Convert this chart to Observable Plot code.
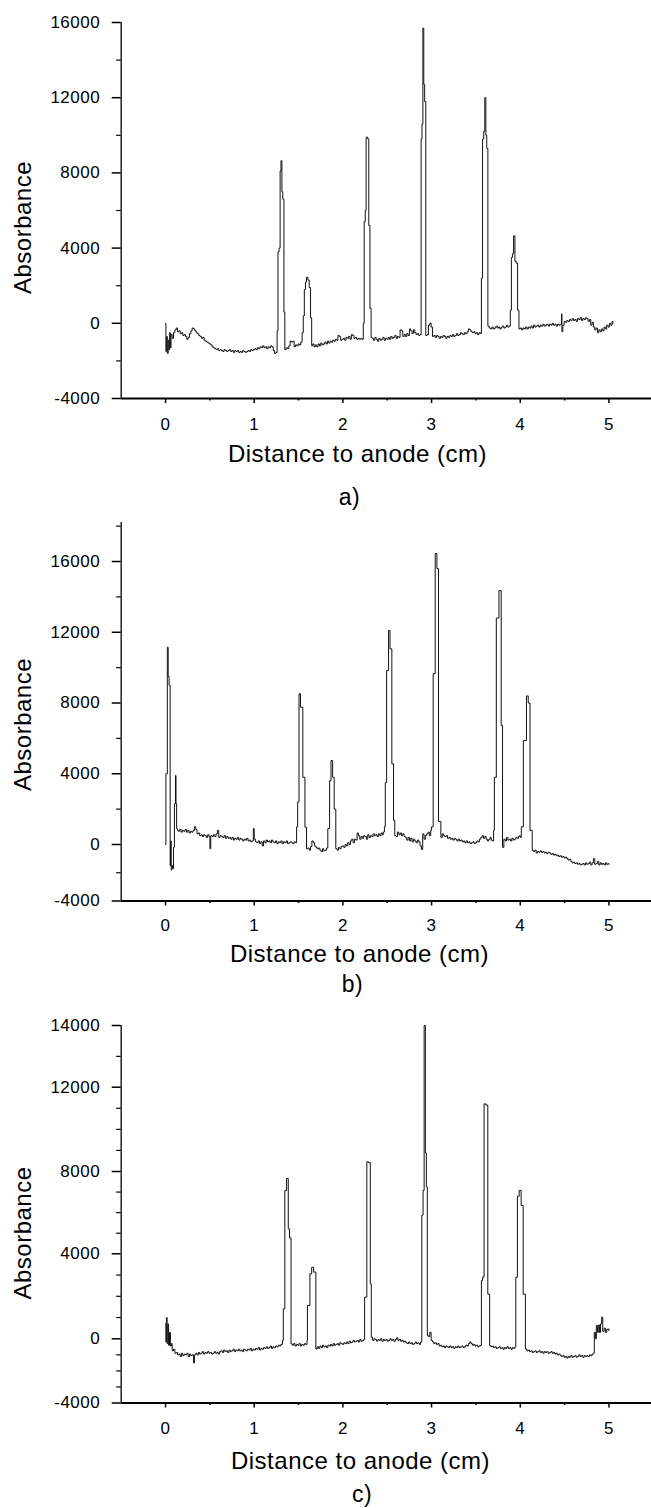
<!DOCTYPE html>
<html>
<head>
<meta charset="utf-8">
<script src="https://cdn.jsdelivr.net/npm/d3@7"></script>
<script src="https://cdn.jsdelivr.net/npm/@observablehq/plot@0.6"></script>
<style>
html, body { margin: 0; padding: 0; background: #fff; overflow: hidden; }
svg { display: block; }
</style>
</head>
<body>
<div id="root"></div>
<script>
// ---- text ----
const xLabel = "Distance to anode (cm)";
const yLabel = "Absorbance";
const captions = ["a)", "b)", "c)"];

// ---- ticks ----
const xMajor = [0, 1, 2, 3, 4, 5];
const xMinor = [0.5, 1.5, 2.5, 3.5, 4.5];
const aYMajor = [-4000, 0, 4000, 8000, 12000, 16000];
const aYMinor = [-2000, 2000, 6000, 10000, 14000];
const bYMajor = [-4000, 0, 4000, 8000, 12000, 16000];
const bYMinor = [-2000, 2000, 6000, 10000, 14000, 18000];
const cYMajor = [-4000, 0, 4000, 8000, 12000, 14000];
const cYMinor = [-3000, -2000, -1000, 1000, 2000, 3000, 5000, 6000, 7000, 9000, 10000, 11000, 13000];

// ---- traces: [distance (cm), absorbance] ----
const traceA = [[0,0],[0.004,-1500],[0.012,-700],[0.02,-1600],[0.03,-900],[0.038,-1400],[0.046,-500],[0.054,-1300],[0.062,-600],[0.075,-800],[0.09,-500],[0.105,-350],[0.12,-250],[0.135,-450],[0.15,-400],[0.165,-550],[0.18,-500],[0.195,-650],[0.21,-600],[0.225,-700],[0.24,-850],[0.255,-750],[0.27,-550],[0.285,-400],[0.3,-250],[0.315,-300],[0.33,-400],[0.345,-500],[0.36,-550],[0.375,-650],[0.39,-700],[0.405,-800],[0.42,-750],[0.435,-900],[0.45,-950],[0.465,-1000],[0.48,-1050],[0.495,-1100],[0.51,-1150],[0.525,-1250],[0.54,-1300],[0.555,-1350],[0.57,-1400],[0.585,-1350],[0.6,-1450],[0.615,-1400],[0.63,-1450],[0.645,-1500],[0.66,-1400],[0.675,-1450],[0.69,-1500],[0.705,-1450],[0.72,-1400],[0.735,-1500],[0.75,-1450],[0.765,-1550],[0.78,-1450],[0.795,-1500],[0.81,-1450],[0.825,-1550],[0.84,-1500],[0.855,-1550],[0.87,-1450],[0.885,-1500],[0.9,-1550],[0.915,-1500],[0.93,-1450],[0.945,-1500],[0.96,-1400],[0.975,-1450],[0.99,-1400],[1.005,-1350],[1.02,-1400],[1.035,-1300],[1.05,-1350],[1.065,-1250],[1.08,-1300],[1.095,-1200],[1.11,-1300],[1.125,-1250],[1.14,-1350],[1.155,-1250],[1.17,-1300],[1.185,-1200],[1.2,-1250],[1.215,-1450],[1.23,-1600],[1.245,-1550],[1.258,-400],[1.268,3800],[1.28,4000],[1.292,8100],[1.302,8650],[1.312,7000],[1.322,6600],[1.335,600],[1.345,-1400],[1.36,-1300],[1.375,-1350],[1.39,-1200],[1.405,-950],[1.42,-1000],[1.435,-950],[1.45,-1250],[1.465,-1150],[1.48,-1200],[1.495,-1100],[1.51,-1150],[1.525,-1000],[1.54,-500],[1.553,400],[1.565,1800],[1.578,2200],[1.59,2450],[1.605,2300],[1.62,1900],[1.635,300],[1.648,-1200],[1.66,-1100],[1.675,-1250],[1.69,-1150],[1.705,-1250],[1.72,-1100],[1.735,-1200],[1.75,-1050],[1.765,-1150],[1.78,-1100],[1.795,-1000],[1.81,-1100],[1.825,-950],[1.84,-1050],[1.855,-950],[1.87,-1000],[1.885,-900],[1.9,-950],[1.915,-850],[1.93,-900],[1.945,-650],[1.96,-700],[1.975,-900],[1.99,-850],[2.005,-800],[2.02,-900],[2.035,-750],[2.05,-800],[2.065,-700],[2.08,-850],[2.095,-600],[2.11,-650],[2.125,-800],[2.14,-750],[2.155,-850],[2.17,-800],[2.185,-850],[2.2,-800],[2.215,-850],[2.23,0],[2.24,5400],[2.252,6000],[2.262,9900],[2.28,9800],[2.292,5200],[2.305,800],[2.318,-750],[2.33,-800],[2.345,-900],[2.36,-750],[2.375,-850],[2.39,-950],[2.405,-800],[2.42,-900],[2.435,-850],[2.45,-750],[2.465,-900],[2.48,-800],[2.495,-850],[2.51,-750],[2.525,-850],[2.54,-700],[2.555,-800],[2.57,-750],[2.585,-650],[2.6,-800],[2.615,-700],[2.63,-750],[2.645,-350],[2.66,-400],[2.675,-700],[2.69,-600],[2.705,-700],[2.72,-550],[2.735,-650],[2.75,-300],[2.765,-400],[2.78,-550],[2.795,-350],[2.81,-500],[2.825,-600],[2.84,-550],[2.855,-650],[2.87,-600],[2.882,9800],[2.892,10600],[2.902,15700],[2.912,12700],[2.922,11800],[2.935,-650],[2.95,-600],[2.965,-100],[2.98,0],[2.995,-200],[3.01,-700],[3.025,-650],[3.04,-750],[3.055,-650],[3.07,-700],[3.085,-800],[3.1,-700],[3.115,-750],[3.13,-650],[3.145,-700],[3.16,-800],[3.175,-700],[3.19,-750],[3.205,-650],[3.22,-700],[3.235,-600],[3.25,-700],[3.265,-650],[3.28,-550],[3.295,-650],[3.31,-600],[3.325,-500],[3.34,-550],[3.355,-600],[3.37,-500],[3.385,-550],[3.4,-450],[3.415,-300],[3.43,-350],[3.445,-450],[3.46,-500],[3.475,-450],[3.49,-550],[3.505,-500],[3.52,-600],[3.535,-500],[3.55,-550],[3.562,2400],[3.575,9800],[3.588,10200],[3.6,12000],[3.612,10000],[3.622,9300],[3.635,-150],[3.65,-250],[3.665,-300],[3.68,-200],[3.695,-300],[3.71,-250],[3.725,-150],[3.74,-250],[3.755,-200],[3.77,-300],[3.785,-200],[3.8,-150],[3.815,-250],[3.83,-200],[3.845,-100],[3.86,-200],[3.875,-150],[3.888,700],[3.9,3500],[3.912,3700],[3.925,4650],[3.94,3300],[3.955,3200],[3.97,700],[3.985,-300],[4.0,-250],[4.015,-350],[4.03,-250],[4.045,-300],[4.06,-200],[4.075,-300],[4.09,-200],[4.105,-250],[4.12,-150],[4.135,-250],[4.15,-100],[4.165,-200],[4.18,-150],[4.195,-100],[4.21,-200],[4.225,-100],[4.24,-150],[4.255,-50],[4.27,-150],[4.285,-100],[4.3,-50],[4.315,-150],[4.33,-50],[4.345,-100],[4.36,0],[4.375,-100],[4.39,-50],[4.405,-150],[4.42,-50],[4.435,-100],[4.45,-50],[4.465,500],[4.47,-450],[4.48,-100],[4.495,100],[4.51,50],[4.525,150],[4.54,100],[4.555,200],[4.57,150],[4.585,250],[4.6,150],[4.615,200],[4.63,100],[4.645,250],[4.66,200],[4.675,300],[4.69,150],[4.705,250],[4.72,200],[4.735,300],[4.75,250],[4.765,100],[4.78,200],[4.795,-100],[4.81,50],[4.825,-200],[4.84,-350],[4.855,-250],[4.87,-500],[4.885,-350],[4.9,-450],[4.915,-300],[4.93,-400],[4.945,-200],[4.96,-300],[4.975,-100],[4.99,-200],[5.005,0],[5.02,-100],[5.035,100],[5.045,0]];

const traceB = [[0,0],[0.004,4000],[0.02,11150],[0.03,9500],[0.04,9000],[0.052,-1500],[0.058,200],[0.064,-1800],[0.072,-1500],[0.08,-1700],[0.09,-200],[0.1,2300],[0.112,3900],[0.118,2300],[0.125,900],[0.135,800],[0.145,750],[0.16,850],[0.175,700],[0.19,800],[0.205,750],[0.22,850],[0.235,700],[0.25,800],[0.265,650],[0.28,750],[0.295,700],[0.31,800],[0.325,1000],[0.34,850],[0.355,600],[0.37,650],[0.385,500],[0.4,550],[0.415,450],[0.43,550],[0.445,500],[0.46,400],[0.475,550],[0.49,450],[0.5,-300],[0.51,500],[0.525,450],[0.54,550],[0.555,450],[0.57,600],[0.585,800],[0.6,400],[0.615,500],[0.63,450],[0.645,400],[0.66,500],[0.675,350],[0.69,450],[0.705,350],[0.72,400],[0.735,300],[0.75,400],[0.765,250],[0.78,350],[0.795,300],[0.81,400],[0.825,250],[0.84,350],[0.855,300],[0.87,200],[0.885,300],[0.9,250],[0.915,350],[0.93,200],[0.945,250],[0.96,150],[0.975,200],[0.99,900],[1.0,300],[1.015,150],[1.03,100],[1.045,200],[1.06,50],[1.075,150],[1.09,-100],[1.105,200],[1.12,100],[1.135,250],[1.15,150],[1.165,200],[1.18,100],[1.195,250],[1.21,150],[1.225,100],[1.24,200],[1.255,50],[1.27,150],[1.285,100],[1.3,200],[1.315,50],[1.33,150],[1.345,100],[1.36,200],[1.375,50],[1.39,100],[1.405,150],[1.42,100],[1.435,50],[1.45,150],[1.465,100],[1.478,1000],[1.49,2400],[1.505,8520],[1.522,7760],[1.548,3800],[1.572,980],[1.59,-300],[1.605,-250],[1.62,-400],[1.635,-150],[1.65,200],[1.665,100],[1.68,-100],[1.695,-200],[1.71,-300],[1.725,-250],[1.74,-400],[1.755,-500],[1.77,-300],[1.785,-450],[1.8,-400],[1.815,-250],[1.83,900],[1.85,3600],[1.866,4750],[1.884,3800],[1.902,2000],[1.92,-300],[1.935,-400],[1.95,-200],[1.965,-300],[1.98,-150],[1.995,-100],[2.01,-200],[2.025,0],[2.04,-100],[2.055,100],[2.07,0],[2.085,200],[2.1,300],[2.115,100],[2.13,300],[2.145,250],[2.16,650],[2.175,500],[2.19,300],[2.205,450],[2.22,350],[2.235,500],[2.25,450],[2.265,300],[2.28,550],[2.295,400],[2.31,500],[2.325,450],[2.34,600],[2.355,500],[2.37,550],[2.385,450],[2.4,600],[2.415,500],[2.43,650],[2.445,550],[2.455,700],[2.468,1000],[2.478,3500],[2.493,9840],[2.515,12100],[2.531,11060],[2.552,4560],[2.571,1360],[2.585,500],[2.6,450],[2.615,700],[2.63,550],[2.645,650],[2.66,500],[2.675,600],[2.69,450],[2.705,400],[2.72,250],[2.735,400],[2.75,200],[2.765,350],[2.78,150],[2.795,300],[2.81,200],[2.825,100],[2.84,250],[2.855,150],[2.87,-100],[2.885,-350],[2.9,600],[2.915,300],[2.93,500],[2.945,600],[2.96,700],[2.975,500],[2.99,800],[3.0,1000],[3.018,9660],[3.041,16450],[3.06,15600],[3.078,1300],[3.105,400],[3.12,600],[3.135,500],[3.15,450],[3.165,500],[3.18,350],[3.195,400],[3.21,300],[3.225,350],[3.24,250],[3.255,350],[3.27,300],[3.285,200],[3.3,300],[3.315,200],[3.33,250],[3.345,150],[3.36,200],[3.375,100],[3.39,200],[3.405,100],[3.42,150],[3.435,50],[3.45,100],[3.465,150],[3.48,50],[3.495,100],[3.51,200],[3.525,150],[3.54,300],[3.555,400],[3.57,500],[3.585,350],[3.6,450],[3.615,300],[3.63,200],[3.645,300],[3.66,400],[3.672,250],[3.685,200],[3.699,800],[3.708,3800],[3.73,12800],[3.76,14350],[3.785,6730],[3.8,-200],[3.815,300],[3.83,200],[3.845,400],[3.86,250],[3.875,300],[3.89,200],[3.905,350],[3.92,250],[3.935,300],[3.95,400],[3.965,350],[3.98,450],[3.99,500],[4.0,400],[4.012,1000],[4.035,5880],[4.07,8400],[4.09,8000],[4.11,800],[4.135,-420],[4.15,-500],[4.165,-400],[4.18,-600],[4.195,-500],[4.21,-550],[4.225,-450],[4.24,-550],[4.255,-500],[4.27,-600],[4.285,-550],[4.3,-650],[4.315,-550],[4.33,-600],[4.345,-700],[4.36,-650],[4.375,-750],[4.39,-700],[4.405,-800],[4.42,-750],[4.435,-850],[4.45,-800],[4.465,-900],[4.48,-850],[4.495,-950],[4.51,-900],[4.525,-1000],[4.54,-1100],[4.555,-1050],[4.57,-1200],[4.585,-1300],[4.6,-1250],[4.615,-1350],[4.63,-1300],[4.645,-1400],[4.66,-1350],[4.675,-1450],[4.69,-1400],[4.705,-1350],[4.72,-1450],[4.735,-1300],[4.75,-1400],[4.765,-1350],[4.78,-1250],[4.795,-1450],[4.81,-1300],[4.825,-1000],[4.84,-1400],[4.855,-1350],[4.87,-1200],[4.885,-1450],[4.9,-1300],[4.915,-1400],[4.93,-1350],[4.945,-1450],[4.96,-1300],[4.975,-1400],[4.99,-1350],[5.0,-1400]];

const traceC = [[0,700],[0.004,-200],[0.01,1000],[0.018,-300],[0.026,700],[0.034,-400],[0.045,300],[0.055,-450],[0.065,-300],[0.075,-750],[0.09,-650],[0.105,-900],[0.12,-850],[0.135,-1000],[0.15,-950],[0.165,-1100],[0.18,-900],[0.195,-1050],[0.21,-950],[0.225,-1000],[0.24,-900],[0.255,-1100],[0.27,-950],[0.285,-1050],[0.3,-1000],[0.315,-1500],[0.325,-1000],[0.34,-900],[0.355,-1000],[0.37,-850],[0.385,-950],[0.4,-900],[0.415,-800],[0.43,-950],[0.445,-850],[0.46,-900],[0.475,-800],[0.49,-900],[0.505,-850],[0.52,-950],[0.535,-900],[0.55,-800],[0.565,-900],[0.58,-850],[0.595,-950],[0.61,-800],[0.625,-750],[0.64,-850],[0.655,-700],[0.67,-800],[0.685,-750],[0.7,-850],[0.715,-700],[0.73,-800],[0.745,-750],[0.76,-650],[0.775,-800],[0.79,-700],[0.805,-750],[0.82,-650],[0.835,-750],[0.85,-700],[0.865,-800],[0.88,-650],[0.895,-700],[0.91,-750],[0.925,-650],[0.94,-700],[0.955,-600],[0.97,-750],[0.985,-650],[1.0,-700],[1.015,-600],[1.03,-650],[1.045,-550],[1.06,-700],[1.075,-600],[1.09,-650],[1.105,-550],[1.12,-600],[1.135,-500],[1.15,-600],[1.165,-550],[1.18,-450],[1.195,-600],[1.21,-500],[1.225,-550],[1.24,-450],[1.255,-500],[1.27,-400],[1.285,-450],[1.3,-350],[1.318,-100],[1.328,1410],[1.345,7080],[1.365,7660],[1.384,5210],[1.398,4780],[1.415,-320],[1.43,-400],[1.445,-300],[1.46,-450],[1.475,-350],[1.49,-400],[1.505,-300],[1.52,-450],[1.535,-350],[1.55,-400],[1.565,-300],[1.58,-350],[1.595,-100],[1.6,1570],[1.628,3060],[1.648,3370],[1.67,3140],[1.695,-640],[1.71,-500],[1.725,-600],[1.74,-450],[1.755,-550],[1.77,-400],[1.785,-500],[1.8,-450],[1.815,-550],[1.83,-400],[1.845,-450],[1.86,-350],[1.875,-450],[1.89,-300],[1.905,-400],[1.92,-350],[1.935,-300],[1.95,-400],[1.965,-250],[1.98,-300],[1.995,-350],[2.01,-250],[2.025,-300],[2.04,-200],[2.055,-300],[2.07,-150],[2.085,-250],[2.1,-200],[2.115,-100],[2.13,-200],[2.145,-150],[2.16,-100],[2.175,-200],[2.19,-50],[2.205,-150],[2.22,-100],[2.235,-50],[2.245,1960],[2.27,8460],[2.292,8420],[2.309,2590],[2.32,75],[2.335,-100],[2.35,0],[2.365,-50],[2.38,-150],[2.395,-50],[2.41,-100],[2.425,0],[2.44,-150],[2.455,-50],[2.47,-100],[2.485,-50],[2.5,-150],[2.515,-100],[2.53,0],[2.545,-100],[2.56,-50],[2.575,-150],[2.59,-50],[2.605,50],[2.62,-100],[2.635,-50],[2.65,-150],[2.665,-100],[2.68,-200],[2.695,-150],[2.71,-250],[2.725,-300],[2.74,-200],[2.755,-300],[2.77,-250],[2.785,-350],[2.8,-300],[2.815,-200],[2.83,-300],[2.845,-250],[2.86,-350],[2.875,-200],[2.89,5880],[2.904,7080],[2.916,14000],[2.93,8880],[2.941,7260],[2.952,150],[2.965,100],[2.98,300],[2.995,-100],[3.01,-200],[3.025,-300],[3.04,-250],[3.055,-350],[3.07,-300],[3.085,-450],[3.1,-400],[3.115,-500],[3.13,-450],[3.145,-550],[3.16,-450],[3.175,-500],[3.19,-550],[3.205,-450],[3.22,-550],[3.235,-500],[3.25,-600],[3.265,-500],[3.28,-550],[3.295,-450],[3.31,-550],[3.325,-500],[3.34,-450],[3.355,-550],[3.37,-500],[3.385,-400],[3.4,-450],[3.415,-300],[3.43,-200],[3.445,-300],[3.46,-400],[3.475,-350],[3.49,-450],[3.505,-400],[3.52,-500],[3.535,-450],[3.55,-400],[3.562,2740],[3.575,2900],[3.592,11210],[3.612,11150],[3.634,2100],[3.655,-430],[3.67,-500],[3.685,-450],[3.7,-550],[3.715,-500],[3.73,-600],[3.745,-550],[3.76,-500],[3.775,-600],[3.79,-550],[3.805,-650],[3.82,-550],[3.835,-600],[3.85,-500],[3.865,-600],[3.88,-550],[3.895,-650],[3.91,-550],[3.925,-600],[3.94,-500],[3.95,2900],[3.968,6800],[3.988,7080],[4.01,6350],[4.033,2100],[4.058,-640],[4.075,-750],[4.09,-700],[4.105,-800],[4.12,-750],[4.135,-850],[4.15,-800],[4.165,-750],[4.18,-850],[4.195,-800],[4.21,-750],[4.225,-850],[4.24,-800],[4.255,-900],[4.27,-800],[4.285,-850],[4.3,-800],[4.315,-900],[4.33,-850],[4.345,-800],[4.36,-900],[4.375,-850],[4.39,-950],[4.405,-900],[4.42,-1000],[4.435,-950],[4.45,-1050],[4.465,-1100],[4.48,-1050],[4.495,-1150],[4.51,-1100],[4.525,-1200],[4.54,-1100],[4.555,-1150],[4.57,-1050],[4.585,-1150],[4.6,-1100],[4.615,-1050],[4.63,-1150],[4.645,-1100],[4.66,-1000],[4.675,-1100],[4.69,-1050],[4.705,-1150],[4.72,-1050],[4.735,-1100],[4.75,-1050],[4.765,-1100],[4.78,-1000],[4.795,-1050],[4.81,-950],[4.825,-900],[4.835,300],[4.848,0],[4.858,625],[4.87,300],[4.88,650],[4.893,300],[4.905,700],[4.918,1020],[4.93,350],[4.945,500],[4.96,300],[4.975,450],[4.99,400],[5.0,470]];

// ---- layout (panel-local pixels) ----
const W = 651, ML = 120.7;
const FONT = '"Liberation Sans", Arial, Helvetica, sans-serif';

// yKnots: axis values whose positions (yPos) are pinned; between them the axis is linear
const panels = [
  {trace: traceA, caption: captions[0], height: 515,
   yKnots: [-4000, 16000], yPos: [398, 22], yTop: 16000,
   yMajor: aYMajor, yMinor: aYMinor, xPad: 14.5,
   absX: 23.3, absY: 227, titleX: 357, titleY: 453.8, capX: 349, capY: 497.6},
  {trace: traceB, caption: captions[1], height: 485,
   yKnots: [-4000, 0, 18200], yPos: [385.5, 329, 7.1], yTop: 18200,
   yMajor: bYMajor, yMinor: bYMinor, xPad: 13.3,
   absX: 23.3, absY: 209, titleX: 359, titleY: 439, capX: 352, capY: 469.3},
  {trace: traceC, caption: captions[2], height: 508,
   yKnots: [-4000, 0, 4000, 8000, 12000, 14000], yPos: [402.5, 338.3, 253.3, 171, 86.7, 25], yTop: 14000,
   yMajor: cYMajor, yMinor: cYMinor, xPad: 14,
   absX: 23.3, absY: 232.5, titleX: 360, titleY: 460.6, capX: 361.5, capY: 494.3}
];

const root = document.getElementById("root");
for (const p of panels) {
  const data = p.trace.map(([x, y]) => ({x, y}));
  const n = p.yKnots.length;
  const lo = p.yKnots[0], hi = p.yKnots[n - 1];
  const bottom = p.yPos[0], top = p.yPos[n - 1];
  // warp the printed axis (as drawn in the source figure) onto a linear one
  const pxToVal = d3.scaleLinear().domain([bottom, top]).range([lo, hi]);
  const warp = d3.scaleLinear().domain(p.yKnots).range(p.yPos.map(pxToVal));
  const chart = Plot.plot({
    width: W,
    height: p.height,
    marginLeft: ML,
    marginRight: 0,
    marginTop: top,
    marginBottom: p.height - bottom,
    x: {domain: [-0.5, 5.48], range: [ML, W]},
    y: {domain: [lo, hi], transform: v => warp(v)},
    style: {fontFamily: FONT, fontSize: "17px", color: "#000", background: "#fff", letterSpacing: "0.5px", overflow: "visible"},
    marks: [
      Plot.ruleY([lo], {stroke: "#000", strokeWidth: 2}),
      Plot.ruleX([{x: -0.5, y1: lo, y2: p.yTop}], {x: "x", y1: "y1", y2: "y2", stroke: "#222", strokeWidth: 1.5}),
      Plot.axisX(xMajor, {tickSize: 5, tickPadding: p.xPad, strokeWidth: 1.5, fontSize: 17, label: null, tickFormat: d => String(d)}),
      Plot.axisX(xMinor, {tickSize: 2.5, strokeWidth: 1.5, label: null, tickFormat: () => ""}),
      Plot.axisY(p.yMajor, {tickSize: 9, tickPadding: 12, strokeWidth: 1.5, fontSize: 17, label: null, tickFormat: d => String(d)}),
      Plot.axisY(p.yMinor, {tickSize: 4.5, strokeWidth: 1.2, label: null, tickFormat: () => ""}),
      Plot.line(data, {x: "x", y: "y", curve: "step-after", stroke: "#111", strokeWidth: 1}),
      Plot.text([yLabel], {text: d => d, frameAnchor: "top-left", dx: p.absX - ML, dy: p.absY - top, rotate: -90, textAnchor: "middle", lineAnchor: "middle", fontSize: 24, fill: "#000"}),
      Plot.text([xLabel], {text: d => d, frameAnchor: "top-left", dx: p.titleX - ML, dy: p.titleY - top, textAnchor: "middle", lineAnchor: "middle", fontSize: 24, fill: "#000"}),
      Plot.text([p.caption], {text: d => d, frameAnchor: "top-left", dx: p.capX - ML, dy: p.capY - top, textAnchor: "middle", lineAnchor: "middle", fontSize: 23, fill: "#000"})
    ]
  });
  root.appendChild(chart);
}
</script>
</body>
</html>
